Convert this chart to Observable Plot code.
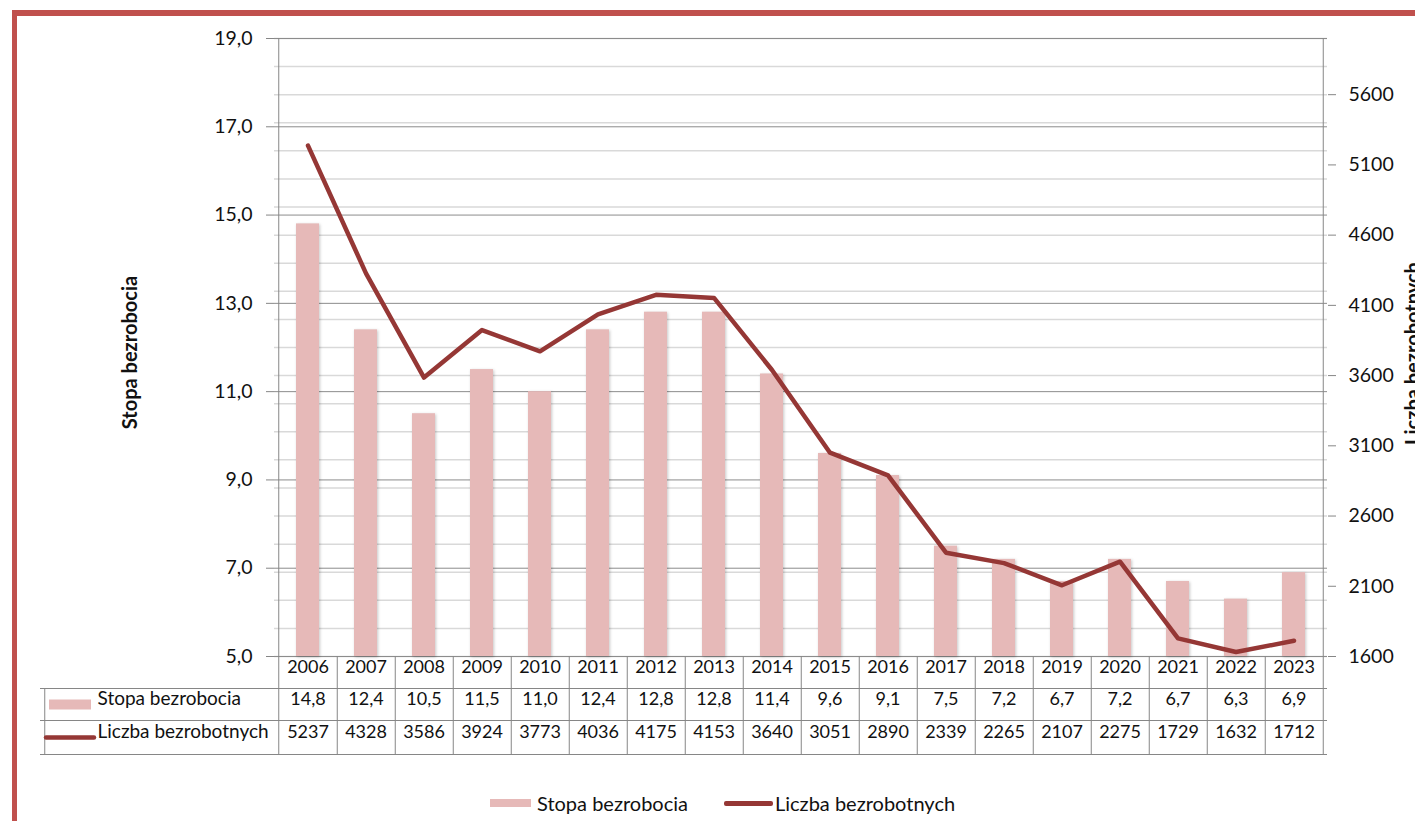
<!DOCTYPE html>
<html>
<head>
<meta charset="utf-8">
<script src="https://cdn.jsdelivr.net/npm/d3@7"></script>
<script src="https://cdn.jsdelivr.net/npm/@observablehq/plot@0.6"></script>
<style>
  html, body { margin: 0; padding: 0; background: #fff; }
  body { width: 1415px; height: 821px; overflow: hidden; position: relative; font-family: Lato, sans-serif; }
  #border { position: absolute; left: 12px; top: 10px; width: 1500px; height: 900px;
            border-left: 5px solid #c0504d; border-top: 6px solid #c0504d; }
  #chart { position: absolute; left: 0; top: 0; }
  #chart g[aria-label="bar"] rect { filter: drop-shadow(1.5px 1px 1.5px rgba(0,0,0,0.22)); }
  #legend { position: absolute; top: 792px; left: 490px; height: 22px; display: flex; align-items: center;
            font-size: 20px; color: #111; white-space: nowrap; }
  #legend .sw1 { width: 41px; height: 8px; background: #e6b9b8; }
  #legend .sw2 { width: 49px; height: 5px; background: #953735; border-radius: 2px; margin-left: 36px; }
</style>
</head>
<body>
<div id="border"></div>
<div id="chart"></div>
<div id="legend">
  <span class="sw1"></span><span style="margin-left:6px">Stopa bezrobocia</span>
  <span class="sw2"></span><span style="margin-left:2px">Liczba bezrobotnych</span>
</div>
<script>
// ---- data ----
const years = ["2006","2007","2008","2009","2010","2011","2012","2013","2014","2015","2016","2017","2018","2019","2020","2021","2022","2023"];
const stopa = [14.8, 12.4, 10.5, 11.5, 11.0, 12.4, 12.8, 12.8, 11.4, 9.6, 9.1, 7.5, 7.2, 6.7, 7.2, 6.7, 6.3, 6.9];
const liczba = [5237, 4328, 3586, 3924, 3773, 4036, 4175, 4153, 3640, 3051, 2890, 2339, 2265, 2107, 2275, 1729, 1632, 1712];
const leftTicks = [5, 7, 9, 11, 13, 15, 17, 19];
const rightTicks = [1600, 2100, 2600, 3100, 3600, 4100, 4600, 5100, 5600];
const leftDomain = [5, 19];
const rightDomain = [1600, 6000];
const rightMinorStep = 200;
const seriesNames = ["Stopa bezrobocia", "Liczba bezrobotnych"];

// ---- layout ----
const W = 1415, H = 756, ML = 274, MR = 88, MT = 38, MB = 100;
const FH = H - MT - MB;
const step = (W - ML - MR) / years.length;
const labelCol = 234;       // width of the table's label column
const rowH = [32, 32, 34];  // table row heights
const rowY = [rowH[0], rowH[0] + rowH[1], rowH[0] + rowH[1] + rowH[2]];

const barColor = "#e6b9b8", lineColor = "#953735", gridMajor = "#8c8c8c", gridMinor = "#d9d9d9", axisColor = "#868686", ink = "#111";

const toLeft = v => leftDomain[0] + (v - rightDomain[0]) * (leftDomain[1] - leftDomain[0]) / (rightDomain[1] - rightDomain[0]);
const fromLeft = y => rightDomain[0] + (y - leftDomain[0]) * (rightDomain[1] - rightDomain[0]) / (leftDomain[1] - leftDomain[0]);
const fmt1 = d => d.toFixed(1).replace(".", ",");
const minorTicks = d3.range(rightDomain[0], rightDomain[1] + 1, rightMinorStep);

const rows = years.map((year, i) => ({year, stopa: stopa[i], liczba: liczba[i]}));

const plot = Plot.plot({
  width: W, height: H,
  marginLeft: ML, marginRight: MR, marginTop: MT, marginBottom: MB,
  style: {fontFamily: "Lato, sans-serif", fontSize: "18px", color: ink, background: "transparent"},
  x: {type: "band", domain: years, paddingInner: 0.6, paddingOuter: 0.3, axis: null},
  y: {domain: leftDomain, axis: null},
  marks: [
    // gridlines
    Plot.gridY(minorTicks.map(toLeft), {stroke: gridMinor, strokeOpacity: 1, strokeWidth: 1.5}),
    Plot.gridY(leftTicks, {stroke: gridMajor, strokeOpacity: 1, strokeWidth: 1}),
    // bars and line
    Plot.barY(rows, {x: "year", y1: leftDomain[0], y2: "stopa", fill: barColor}),
    Plot.line(rows, {x: "year", y: d => toLeft(d.liczba), stroke: lineColor, strokeWidth: 4.5, strokeLinejoin: "round", strokeLinecap: "round"}),
    // axes
    Plot.axisY({ticks: leftTicks, anchor: "left", tickSize: 8, tickPadding: 14, tickFormat: fmt1, fontSize: 19.5, stroke: axisColor, fill: ink, label: null}),
    Plot.axisY({ticks: rightTicks.map(toLeft), anchor: "right", tickSize: 8, tickPadding: 13, tickFormat: d => String(Math.round(fromLeft(d))), fontSize: 19.5, stroke: axisColor, fill: ink, label: null}),
    // axis lines
    Plot.ruleX([years[0]], {x: d => d, dx: -step / 2, insetBottom: -rowY[2], stroke: axisColor}),
    Plot.ruleX([years[years.length - 1]], {x: d => d, dx: step / 2, stroke: axisColor}),
    // axis titles
    Plot.text([seriesNames[0]], {text: d => d, frameAnchor: "left", dx: -138, dy: 5, rotate: -90, textAnchor: "middle", lineAnchor: "bottom", fontWeight: "bold", fontSize: 20, fill: ink}),
    Plot.text([seriesNames[1]], {text: d => d, frameAnchor: "right", dx: 92, dy: 6, rotate: -90, textAnchor: "middle", lineAnchor: "bottom", fontWeight: "bold", fontSize: 20, fill: ink}),
    // data table grid
    Plot.ruleX(years, {x: d => d, dx: step / 2, insetTop: FH, insetBottom: -rowY[2], stroke: axisColor}),
    Plot.ruleX([years[0]], {x: d => d, dx: -step / 2 - labelCol, insetTop: FH + rowY[0], insetBottom: -rowY[2], stroke: axisColor}),
    Plot.ruleY([leftDomain[0]], {dy: rowY[0], insetLeft: -labelCol, stroke: axisColor}),
    Plot.ruleY([leftDomain[0]], {dy: rowY[1], insetLeft: -labelCol, stroke: axisColor}),
    Plot.ruleY([leftDomain[0]], {dy: rowY[2], insetLeft: -labelCol, stroke: axisColor}),
    // data table text
    Plot.text(rows, {x: "year", text: "year", frameAnchor: "bottom", dy: rowH[0] / 2, fontSize: 18, fill: ink}),
    Plot.text(rows, {x: "year", text: d => fmt1(d.stopa), frameAnchor: "bottom", dy: rowY[0] + rowH[1] / 2, fontSize: 18, fill: ink}),
    Plot.text(rows, {x: "year", text: d => String(d.liczba), frameAnchor: "bottom", dy: rowY[1] + rowH[2] / 2, fontSize: 18, fill: ink}),
    // table legend keys
    Plot.ruleY([leftDomain[0]], {dy: rowY[0] + rowH[1] / 2, insetLeft: -225, insetRight: (W - ML - MR) + 183, stroke: barColor, strokeWidth: 10}),
    Plot.ruleY([leftDomain[0]], {dy: rowY[1] + rowH[2] / 2, insetLeft: -228, insetRight: (W - ML - MR) + 180, stroke: lineColor, strokeWidth: 4.5, strokeLinecap: "round"}),
    Plot.text([seriesNames[0]], {text: d => d, frameAnchor: "bottom-left", dx: -177, dy: rowY[0] + rowH[1] / 2, textAnchor: "start", fontSize: 19, fill: ink}),
    Plot.text([seriesNames[1]], {text: d => d, frameAnchor: "bottom-left", dx: -177, dy: rowY[1] + rowH[2] / 2, textAnchor: "start", fontSize: 19, fill: ink})
  ]
});
document.getElementById("chart").appendChild(plot);
</script>
</body>
</html>
